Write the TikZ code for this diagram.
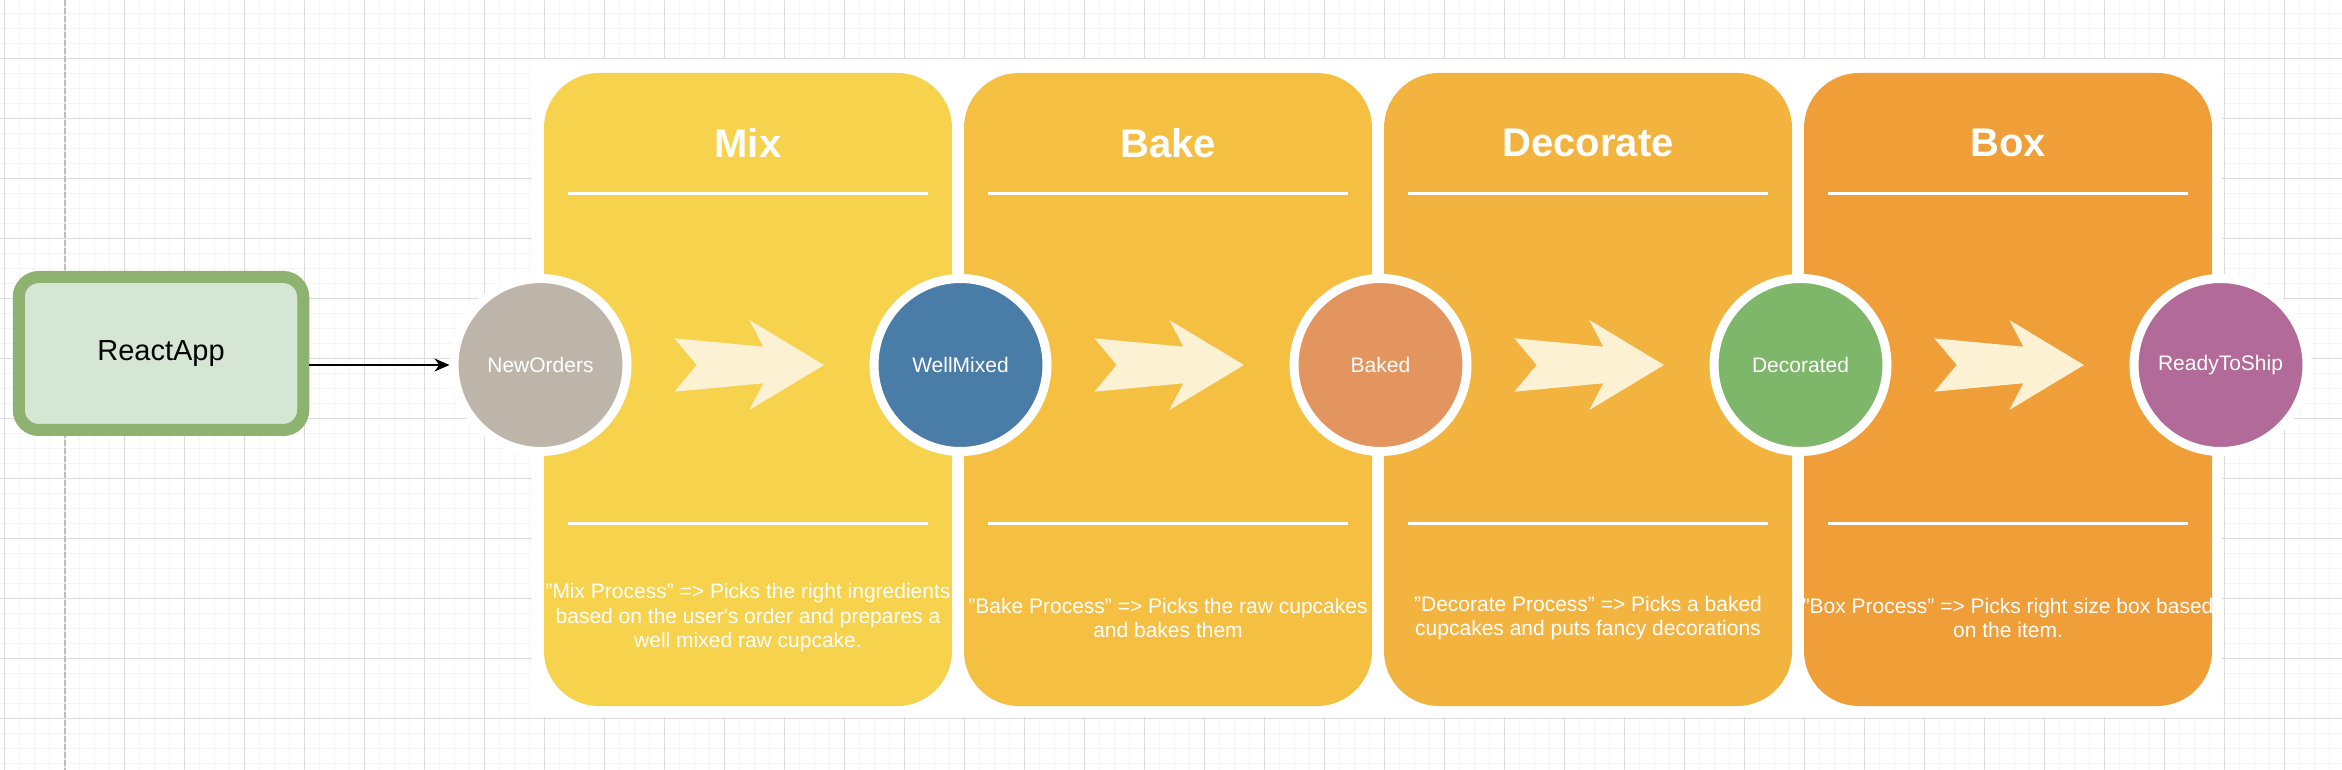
\documentclass[tikz,border=0pt]{standalone}
\usepackage{fontspec}
\setmainfont{Liberation Sans}
\usetikzlibrary{arrows.meta,calc,positioning}
\definecolor{gridminor}{HTML}{F5F5F5}
\definecolor{gridmajor}{HTML}{DCDCDC}
\definecolor{pagebreak}{HTML}{BDBDBD}
\definecolor{mixc}{HTML}{F7D24C}
\definecolor{bakec}{HTML}{F5C042}
\definecolor{decoc}{HTML}{F3B33F}
\definecolor{boxc}{HTML}{F09E38}
\definecolor{flowc}{HTML}{FCF1D2}
\definecolor{newc}{HTML}{BDB5AA}
\definecolor{wellc}{HTML}{4A7CA8}
\definecolor{bakedc}{HTML}{E39560}
\definecolor{decoratedc}{HTML}{7EB66A}
\definecolor{readyc}{HTML}{B26B98}
\definecolor{appborder}{HTML}{8EB370}
\definecolor{appfill}{HTML}{D6E6D4}
\tikzset{>={Stealth[length=7.5pt,width=6.5pt]}}
\tikzstyle{panel}=[rectangle,rounded corners=27.5pt,minimum width=204pt,minimum height=316.5pt,inner sep=0pt]
\tikzstyle{state}=[circle,draw=white,line width=4.5pt,minimum size=86.5pt,inner sep=0pt,text=white,font=\fontsize{10.5}{12}\selectfont]
\tikzstyle{title}=[text=white,inner sep=0pt,font=\bfseries\fontsize{20}{24}\selectfont]
\tikzstyle{desc}=[text=white,align=center,inner sep=0pt,font=\fontsize{10.5}{12.25}\selectfont]
\tikzstyle{sepline}=[white,line width=1.6pt]
\tikzstyle{app}=[rectangle,rounded corners=10pt,draw=appborder,fill=appfill,line width=6pt,minimum width=142.25pt,minimum height=76.5pt,font=\fontsize{14.5}{17}\selectfont]
\tikzstyle{flow}=[fill=flowc,draw=none]

\begin{document}
\begin{tikzpicture}[x=0.5pt,y=-0.5pt]
	\def \hdist {420};
	\useasboundingbox (0,0) rectangle (2342,770);
	\fill[white] (0,0) rectangle (2342,770);

	\foreach \k in {0,...,156} {
		\draw[gridminor,line width=0.75pt] ({4.3+15*\k},0) -- ({4.3+15*\k},770);
	};
	\foreach \k in {0,...,51} {
		\draw[gridminor,line width=0.75pt] (0,{13.3+15*\k}) -- (2342,{13.3+15*\k});
	};
	\foreach \k in {0,...,39} {
		\draw[gridmajor,line width=0.55pt] ({4.3+60*\k},0) -- ({4.3+60*\k},770);
	};
	\foreach \k in {0,...,12} {
		\draw[gridmajor,line width=0.55pt] (0,{58.3+60*\k}) -- (2342,{58.3+60*\k});
	};
	\draw[pagebreak,line width=1pt,dash pattern=on 2.8pt off 1.2pt] (65,0) -- (65,770);
	\fill[white] (532,59) rectangle (2222,717);

	\foreach \i/\name/\col/\ttl in {0/mix/mixc/Mix,1/bake/bakec/Bake,2/deco/decoc/Decorate,3/box/boxc/Box} {
		\node[panel,fill=\col] (\name) at (748+\i*\hdist,389.5) {};
		\node[title] (\name title) at (748+\i*\hdist,143) {\ttl};
		\draw[sepline] ($(\name.north west)+(24,121)$) -- ($(\name.north east)+(-24,121)$);
		\draw[sepline] ($(\name.north west)+(24,451)$) -- ($(\name.north east)+(-24,451)$);
	};

	\node[desc] (mixtext) at (748,618) {"Mix Process" => Picks the right ingredients\\based on the user\textquotesingle s order and prepares a\\well mixed raw cupcake.};
	\node[desc] (baketext) at (748+\hdist,618) {"Bake Process" => Picks the raw cupcakes\\and bakes them};
	\node[desc] (decotext) at (748+2*\hdist,618) {"Decorate Process" => Picks a baked\\cupcakes and puts fancy decorations};
	\node[desc] (boxtext) at (748+3*\hdist,618) {"Box Process" => Picks right size box based\\on the item.};

	\foreach \i/\col/\lbl in {0/newc/NewOrders,1/wellc/WellMixed,2/bakedc/Baked,3/decoratedc/Decorated,4/readyc/ReadyToShip} {
		\node[state,fill=\col] (state\i) at (540.5+\i*\hdist,365) {\lbl};
	};

	\foreach \i in {0,...,3} {
		\fill[flow,shift={($(state\i.center)+(283.5,0)$)}] (0,0) -- (-74.7,-45) -- (-60.7,-18.3) -- (-149.7,-26.7) -- (-127.3,0) -- (-149.7,26.7) -- (-60.7,18.3) -- (-74.7,45) -- cycle;
	};

	\node[app] (react) at (161,353.5) {ReactApp};
	\draw[->,line width=0.75pt] (react.east |- state0.west) -- (state0.west);
\end{tikzpicture}
\end{document}
